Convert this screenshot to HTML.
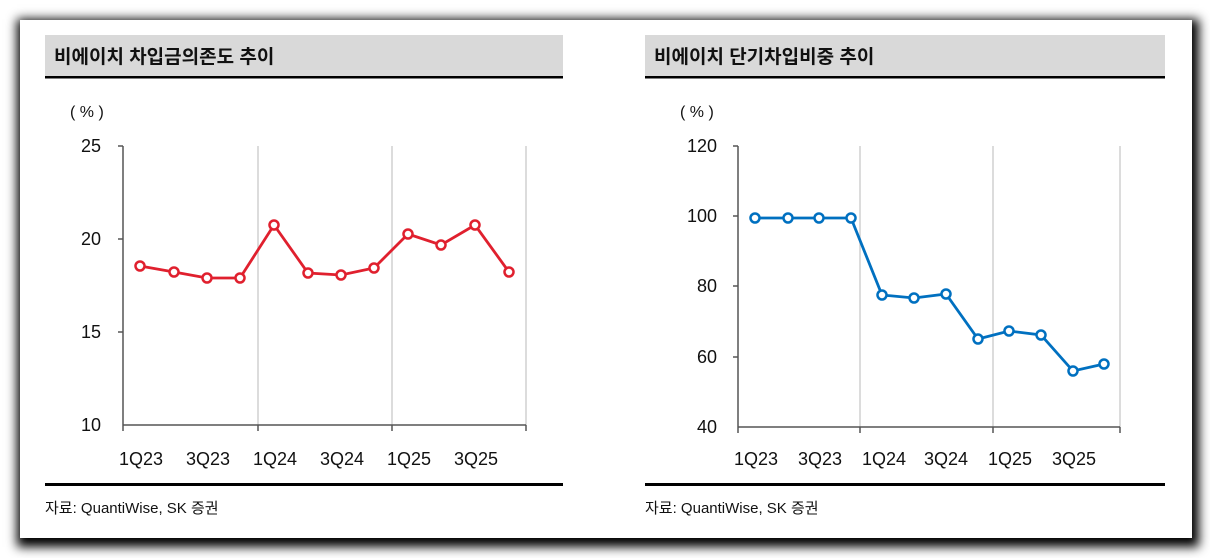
<!DOCTYPE html>
<html><head><meta charset="utf-8"><style>
html,body{margin:0;padding:0;background:#fff;}
body{width:1210px;height:558px;overflow:hidden;position:relative;font-family:"Liberation Sans","Noto Sans CJK KR",sans-serif;}
.panel{position:absolute;left:20px;top:20px;width:1172px;height:518px;background:#fff;box-shadow:2px 4px 10px 5px #000;}
</style></head><body>
<div class="panel"></div>
<svg width="1210" height="558" style="position:absolute;left:0;top:0" font-family="Liberation Sans, Noto Sans CJK KR, sans-serif">
<!-- left -->
<rect x="45" y="35" width="518" height="41" fill="#d9d9d9"/>
<rect x="45" y="76" width="518" height="2.5" fill="#000"/>
<text x="54" y="63" font-size="19" font-weight="bold" fill="#111">비에이치 차입금의존도 추이</text>
<text x="70" y="117" font-size="16" fill="#111">( % )</text>
<g stroke="#d0d0d0" stroke-width="1.5"><line x1="258" y1="146" x2="258" y2="425"/><line x1="392" y1="146" x2="392" y2="425"/><line x1="526" y1="146" x2="526" y2="425"/></g>
<g stroke="#555" stroke-width="1.5" fill="none"><line x1="123" y1="146" x2="123" y2="425"/><line x1="123" y1="425" x2="526" y2="425"/>
<line x1="118" y1="146" x2="123" y2="146"/><line x1="118" y1="239" x2="123" y2="239"/><line x1="118" y1="332" x2="123" y2="332"/>
<line x1="258" y1="425" x2="258" y2="431"/><line x1="392" y1="425" x2="392" y2="431"/><line x1="526" y1="425" x2="526" y2="431"/><line x1="123" y1="425" x2="123" y2="431"/></g>
<g font-size="18" fill="#111" text-anchor="end"><text x="101" y="152">25</text><text x="101" y="245">20</text><text x="101" y="338">15</text><text x="101" y="431">10</text></g>
<g font-size="18" fill="#111" text-anchor="middle"><text x="141" y="465">1Q23</text><text x="208" y="465">3Q23</text><text x="275" y="465">1Q24</text><text x="342" y="465">3Q24</text><text x="409" y="465">1Q25</text><text x="476" y="465">3Q25</text></g>
<polyline fill="none" stroke="#e0202e" stroke-width="2.8" points="140,266 174,272 207,278 240,278 274,225 308,273 341,275 374,268 408,234 441,245 475,225 509,272"/>
<g fill="#fff" stroke="#e0202e" stroke-width="2.5"><circle cx="140" cy="266" r="4.5"/><circle cx="174" cy="272" r="4.5"/><circle cx="207" cy="278" r="4.5"/><circle cx="240" cy="278" r="4.5"/><circle cx="274" cy="225" r="4.5"/><circle cx="308" cy="273" r="4.5"/><circle cx="341" cy="275" r="4.5"/><circle cx="374" cy="268" r="4.5"/><circle cx="408" cy="234" r="4.5"/><circle cx="441" cy="245" r="4.5"/><circle cx="475" cy="225" r="4.5"/><circle cx="509" cy="272" r="4.5"/></g>
<rect x="45" y="483" width="518" height="3" fill="#000"/>
<text x="45" y="513" font-size="15" fill="#111">자료: QuantiWise, SK 증권</text>
<!-- right -->
<rect x="645" y="35" width="520" height="41" fill="#d9d9d9"/>
<rect x="645" y="76" width="520" height="2.5" fill="#000"/>
<text x="654" y="63" font-size="19" font-weight="bold" fill="#111">비에이치 단기차입비중 추이</text>
<text x="680" y="117" font-size="16" fill="#111">( % )</text>
<g stroke="#d0d0d0" stroke-width="1.5"><line x1="860" y1="146" x2="860" y2="427"/><line x1="993" y1="146" x2="993" y2="427"/><line x1="1120" y1="146" x2="1120" y2="427"/></g>
<g stroke="#555" stroke-width="1.5" fill="none"><line x1="738" y1="146" x2="738" y2="427"/><line x1="738" y1="427" x2="1120" y2="427"/>
<line x1="733" y1="146" x2="738" y2="146"/><line x1="733" y1="216" x2="738" y2="216"/><line x1="733" y1="286" x2="738" y2="286"/><line x1="733" y1="357" x2="738" y2="357"/>
<line x1="860" y1="427" x2="860" y2="433"/><line x1="993" y1="427" x2="993" y2="433"/><line x1="1120" y1="427" x2="1120" y2="433"/><line x1="738" y1="427" x2="738" y2="433"/></g>
<g font-size="18" fill="#111" text-anchor="end"><text x="717" y="152">120</text><text x="717" y="222">100</text><text x="717" y="292">80</text><text x="717" y="363">60</text><text x="717" y="433">40</text></g>
<g font-size="18" fill="#111" text-anchor="middle"><text x="756" y="465">1Q23</text><text x="820" y="465">3Q23</text><text x="884" y="465">1Q24</text><text x="946" y="465">3Q24</text><text x="1010" y="465">1Q25</text><text x="1074" y="465">3Q25</text></g>
<polyline fill="none" stroke="#0070c0" stroke-width="2.8" points="755,218 788,218 819,218 851,218 882,295 914,298 946,294 978,339 1009,331 1041,335 1073,371 1104,364"/>
<g fill="#fff" stroke="#0070c0" stroke-width="2.5"><circle cx="755" cy="218" r="4.5"/><circle cx="788" cy="218" r="4.5"/><circle cx="819" cy="218" r="4.5"/><circle cx="851" cy="218" r="4.5"/><circle cx="882" cy="295" r="4.5"/><circle cx="914" cy="298" r="4.5"/><circle cx="946" cy="294" r="4.5"/><circle cx="978" cy="339" r="4.5"/><circle cx="1009" cy="331" r="4.5"/><circle cx="1041" cy="335" r="4.5"/><circle cx="1073" cy="371" r="4.5"/><circle cx="1104" cy="364" r="4.5"/></g>
<rect x="645" y="483" width="520" height="3" fill="#000"/>
<text x="645" y="513" font-size="15" fill="#111">자료: QuantiWise, SK 증권</text>
</svg>
</body></html>
